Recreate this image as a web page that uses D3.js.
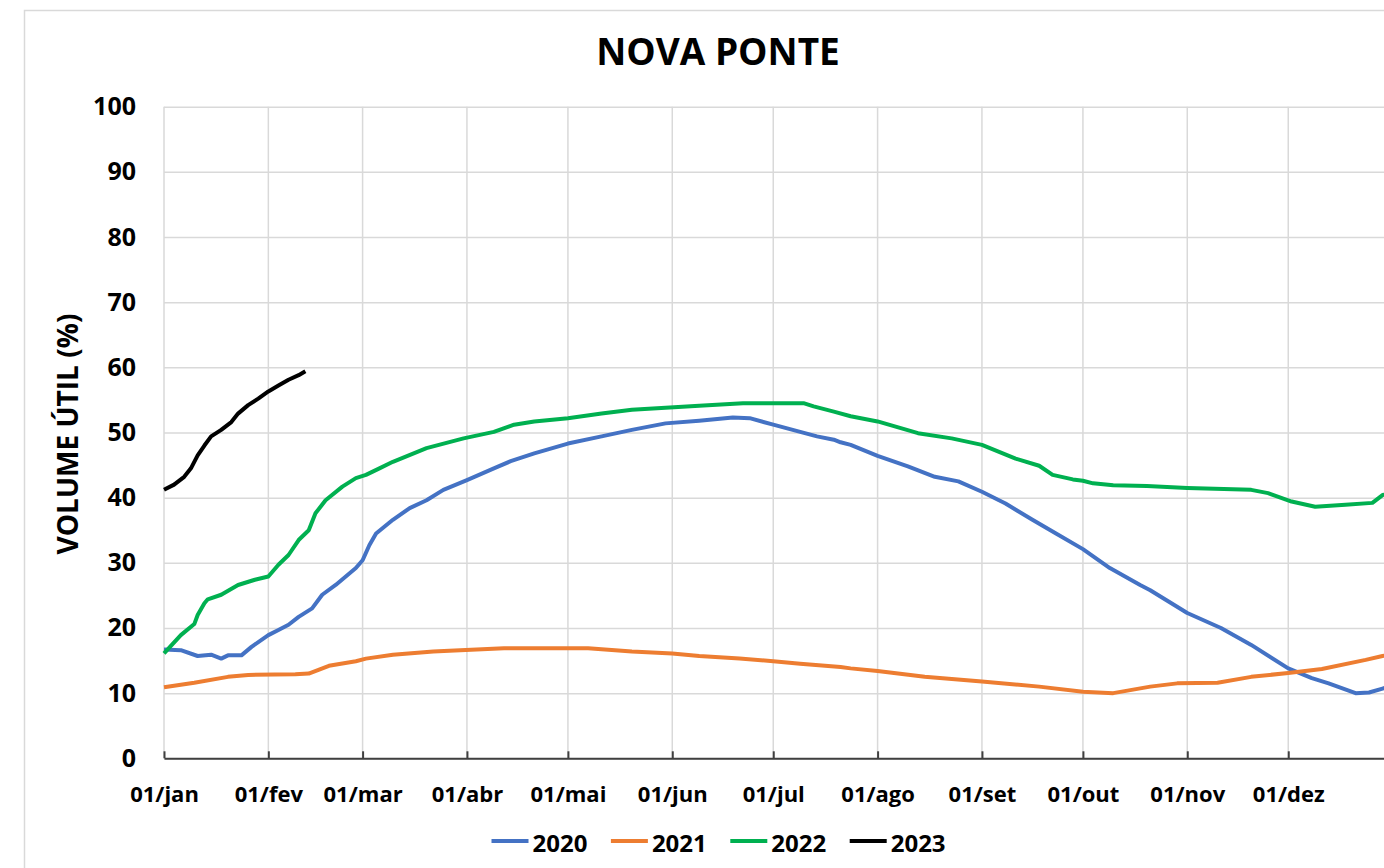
<!DOCTYPE html>
<html>
<head>
<meta charset="utf-8">
<script src="https://cdn.jsdelivr.net/npm/d3@7"></script>
<style>
  body { margin: 0; background: #fff; overflow: hidden; }
  text { font-family: "Open Sans", sans-serif; font-weight: 700; fill: #000; }
</style>
</head>
<body>
<div id="graph"></div>
<script>
// day of year (0 = 01/jan) and useful volume (%)
const days2020 = [0, 5, 10, 14, 17, 19, 23, 26, 31, 34, 37, 40, 44, 47, 51, 57, 59, 61, 63, 68, 73, 78, 83, 90, 98, 103, 110, 120, 130, 139, 149, 159, 169, 174, 181, 189, 194, 199, 201, 204, 212, 221, 229, 236, 243, 250, 258, 265, 273, 281, 290, 293, 304, 314, 323, 334, 341, 346, 354, 358, 362, 364];
const vol2020 = [16.7, 16.6, 15.7, 15.9, 15.3, 15.8, 15.8, 17.1, 18.9, 19.7, 20.5, 21.7, 23.0, 25.1, 26.6, 29.2, 30.4, 32.7, 34.5, 36.6, 38.4, 39.6, 41.2, 42.7, 44.5, 45.6, 46.8, 48.3, 49.4, 50.4, 51.4, 51.8, 52.3, 52.2, 51.2, 50.1, 49.4, 48.9, 48.5, 48.1, 46.4, 44.8, 43.2, 42.5, 40.9, 39.1, 36.6, 34.5, 32.1, 29.2, 26.6, 25.8, 22.3, 20.0, 17.4, 13.8, 12.3, 11.5, 10.0, 10.1, 10.7, 11.0];

const days2021 = [0, 9, 19, 25, 39, 43, 49, 57, 60, 68, 80, 88, 101, 126, 139, 151, 159, 171, 181, 189, 201, 204, 212, 226, 243, 260, 273, 282, 293, 301, 313, 323, 334, 344, 357, 362, 364];
const vol2021 = [10.9, 11.6, 12.5, 12.8, 12.9, 13.0, 14.2, 14.9, 15.3, 15.9, 16.4, 16.6, 16.9, 16.9, 16.4, 16.1, 15.7, 15.3, 14.9, 14.5, 14.0, 13.8, 13.4, 12.5, 11.8, 11.0, 10.2, 10.0, 11.0, 11.5, 11.6, 12.5, 13.1, 13.7, 15.1, 15.7, 15.9];

const days2022 = [0, 5, 9, 10, 12, 13, 17, 22, 27, 31, 34, 37, 40, 43, 45, 48, 53, 57, 60, 64, 68, 78, 89, 98, 104, 110, 120, 130, 139, 149, 159, 172, 190, 193, 199, 204, 212, 224, 234, 243, 253, 260, 264, 270, 273, 276, 282, 292, 304, 323, 328, 335, 342, 351, 359, 362, 364];
const vol2022 = [16.1, 18.9, 20.6, 22.0, 23.8, 24.4, 25.1, 26.6, 27.4, 27.9, 29.7, 31.2, 33.5, 35.0, 37.6, 39.6, 41.7, 43.0, 43.5, 44.5, 45.5, 47.6, 49.1, 50.1, 51.2, 51.7, 52.2, 52.9, 53.5, 53.8, 54.1, 54.5, 54.5, 54.0, 53.2, 52.5, 51.7, 49.9, 49.1, 48.1, 46.0, 44.9, 43.5, 42.8, 42.6, 42.2, 41.9, 41.8, 41.5, 41.2, 40.7, 39.4, 38.6, 38.9, 39.2, 40.4, 40.6];

const days2023 = [0, 3, 6, 8, 10, 12, 14, 17, 20, 22, 25, 28, 31, 34, 37, 40, 42];
const vol2023 = [41.2, 42.0, 43.2, 44.5, 46.5, 48.0, 49.4, 50.4, 51.6, 52.9, 54.2, 55.2, 56.3, 57.2, 58.1, 58.8, 59.4];

const years = ["2020", "2021", "2022", "2023"];
const monthLabels = ["01/jan", "01/fev", "01/mar", "01/abr", "01/mai", "01/jun", "01/jul", "01/ago", "01/set", "01/out", "01/nov", "01/dez"];
const yTicks = [0, 10, 20, 30, 40, 50, 60, 70, 80, 90, 100];

const colors = ["#4472c4", "#ed7d31", "#00b050", "#000000"];
const w = 1384;
const h = 868;
const plot = { left: 164, right: 1392.6, top: 106.7, bottom: 758.3 };

const series = [
  { name: years[0], days: days2020, vals: vol2020 },
  { name: years[1], days: days2021, vals: vol2021 },
  { name: years[2], days: days2022, vals: vol2022 },
  { name: years[3], days: days2023, vals: vol2023 },
];

const dayDate = (d) => new Date(Date.UTC(2021, 0, 1 + d));
const x = d3.scaleUtc().domain([dayDate(0), dayDate(365)]).range([plot.left, plot.right]);
const y = d3.scaleLinear().domain([0, 100]).range([plot.bottom, plot.top]);
const months = d3.utcMonth.range(dayDate(0), dayDate(365));

const svg = d3.select("#graph").append("svg").attr("width", w).attr("height", h);

// chart area border
svg.append("rect")
  .attr("x", 24.5).attr("y", 10.5)
  .attr("width", 1388).attr("height", 900)
  .attr("fill", "#fff").attr("stroke", "#d9d9d9").attr("stroke-width", 1.5);

svg.append("text")
  .attr("x", 718).attr("y", 65)
  .attr("text-anchor", "middle")
  .style("font-size", "37px")
  .text("NOVA PONTE");

// horizontal grid + y labels
const yAxis = svg.append("g")
  .attr("transform", `translate(${plot.left},0)`)
  .call(d3.axisLeft(y).tickValues(yTicks).tickSize(-(plot.right - plot.left)).tickPadding(28));
yAxis.select(".domain").remove();
yAxis.selectAll("line").attr("stroke", "#d9d9d9").attr("stroke-width", 1.5);
yAxis.selectAll("text").style("font-size", "25px").attr("fill", "#000");

// vertical grid
svg.append("g")
  .selectAll("line")
  .data(months)
  .enter()
  .append("line")
  .attr("x1", (d) => x(d)).attr("x2", (d) => x(d))
  .attr("y1", plot.top).attr("y2", plot.bottom)
  .attr("stroke", "#d9d9d9").attr("stroke-width", 1.5);

// x axis
const xAxis = svg.append("g")
  .attr("transform", `translate(0,${plot.bottom})`)
  .call(
    d3.axisBottom(x)
      .tickValues(months)
      .tickSizeInner(-7)
      .tickSizeOuter(0)
      .tickPadding(28)
      .tickFormat((d, i) => monthLabels[i])
  );
xAxis.select(".domain").attr("stroke", "#404040").attr("stroke-width", 2);
xAxis.selectAll("line").attr("stroke", "#404040").attr("stroke-width", 2);
xAxis.selectAll("text").style("font-size", "22px").attr("fill", "#000");

svg.append("text")
  .attr("transform", "translate(67,434) rotate(-90)")
  .attr("text-anchor", "middle")
  .attr("dominant-baseline", "central")
  .style("font-size", "28px")
  .text("VOLUME ÚTIL (%)");

const line = d3.line()
  .x((d) => x(dayDate(d[0])))
  .y((d) => y(d[1]));

svg.append("g")
  .selectAll("path")
  .data(series)
  .enter()
  .append("path")
  .attr("d", (s) => line(s.days.map((d, i) => [d, s.vals[i]])))
  .attr("fill", "none")
  .attr("stroke", (s, i) => colors[i])
  .attr("stroke-width", 4)
  .attr("stroke-linejoin", "round");

// legend
const legend = svg.append("g").attr("transform", "translate(491.5,841)");
const item = legend.selectAll("g")
  .data(series)
  .enter()
  .append("g")
  .attr("transform", (d, i) => `translate(${i * 119.4},0)`);
item.append("line")
  .attr("x1", 0).attr("x2", 37)
  .attr("stroke", (d, i) => colors[i])
  .attr("stroke-width", 4);
item.append("text")
  .attr("x", 41).attr("y", 10.5)
  .style("font-size", "24px")
  .text((d) => d.name);
</script>
</body>
</html>
